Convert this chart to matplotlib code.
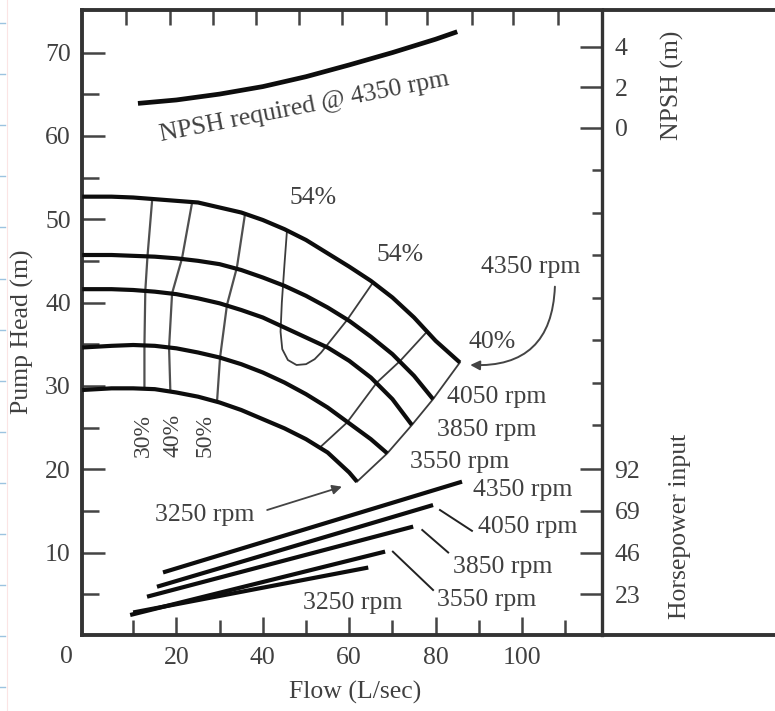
import matplotlib
matplotlib.use("Agg")
import matplotlib.pyplot as plt
from matplotlib.lines import Line2D
import numpy as np

plt.rcParams['font.family'] = ['Liberation Serif', 'DejaVu Serif']

# ---------------- data ----------------
# Head curves (flow L/s, head m)
h4350_q = [-1.8, 5, 10, 15, 20, 25, 30, 35, 40, 45, 50, 55, 60, 65, 70, 75, 80, 85.6]
h4350_h = [52.7, 52.7, 52.6, 52.4, 52.2, 52.0, 51.4, 50.8, 49.9, 48.8, 47.5, 45.9, 44.3, 42.6, 40.6, 38.2, 35.4, 32.8]
h4050_q = [-1.8, 5, 10, 15, 20, 25, 30, 35, 40, 45, 50, 55, 60, 65, 70, 75, 79.4]
h4050_h = [45.7, 45.7, 45.6, 45.5, 45.3, 45.0, 44.6, 43.9, 43.0, 42.0, 40.8, 39.4, 37.8, 35.9, 33.8, 31.2, 28.4]
h3850_q = [-1.8, 5, 10, 15, 20, 25, 30, 35, 40, 45, 50, 55, 60, 65, 70, 74.5]
h3850_h = [41.6, 41.6, 41.5, 41.3, 41.0, 40.5, 39.9, 39.1, 38.2, 37.0, 35.8, 34.6, 33.0, 31.0, 28.4, 25.3]
h3550_q = [-1.8, 5, 10, 15, 20, 25, 30, 35, 40, 45, 50, 55, 60, 65, 68.8]
h3550_h = [34.6, 34.8, 34.9, 34.8, 34.5, 34.0, 33.4, 32.6, 31.6, 30.4, 29.0, 27.4, 25.5, 23.6, 21.9]
h3250_q = [-1.8, 5, 10, 15, 20, 25, 30, 35, 40, 45, 50, 55, 60, 61.8]
h3250_h = [29.5, 29.7, 29.7, 29.6, 29.2, 28.7, 28.0, 27.1, 26.0, 24.9, 23.6, 22.0, 19.6, 18.5]

# Efficiency contours
eff30_q = [14.4, 13.3, 12.8, 12.6, 12.6]
eff30_h = [52.4, 45.5, 41.4, 34.8, 29.7]
eff40_q = [23.6, 21.3, 19.0, 18.3, 18.6]
eff40_h = [51.9, 45.3, 41.1, 34.6, 29.3]
eff50_q = [35.9, 34.0, 31.7, 30.1, 29.4]
eff50_h = [50.7, 44.2, 39.7, 33.4, 28.1]
eff54_q = [45.6, 45.0, 44.4, 44.1, 44.5, 45.8, 47.8, 50.0, 52.0, 53.5, 59.5, 65.5]
eff54_h = [48.7, 44.5, 40.0, 36.5, 34.4, 33.1, 32.5, 32.6, 33.2, 34.0, 37.9, 42.4]
effmid_q = [53.2, 59.5, 66.4, 71.8, 78.0]
effmid_h = [22.6, 25.6, 30.4, 33.0, 36.5]
eff40r_q = [61.8, 68.8, 74.5, 79.4, 85.6]
eff40r_h = [18.5, 21.9, 25.3, 28.4, 32.8]

# NPSH required @ 4350 rpm (flow, NPSH m)
npsh_q = [11.1, 20, 30, 40, 50, 60, 70, 80, 85.0]
npsh_m = [1.19, 1.36, 1.65, 2.02, 2.51, 3.09, 3.70, 4.36, 4.73]

# Horsepower input lines (flow, hp)
hp_speeds = ['4350', '4050', '3850', '3550', '3250']
hp_q = [[16.9, 86.1], [15.5, 79.4], [13.2, 74.8], [9.3, 68.3], [10.0, 64.4]]
hp_v = [[35.0, 85.1], [27.1, 72.2], [21.6, 60.3], [11.5, 46.5], [12.9, 37.7]]

# axes / ticks
x_major = [20, 40, 60, 80, 100]
x_minor = [10, 30, 50, 70, 90, 110]
x_top = [8.3, 18.5, 28.5, 38.4, 48.4, 58.3, 68.5, 78.0, 88.4, 97.9, 108.3]
y_major = [10, 20, 30, 40, 50, 60, 70]
y_minor = [5, 15, 25, 35, 45, 55, 65]
npsh_ticks = [0, 2, 4]
hp_ticks = [23, 46, 69, 92]
right_minor = [25.3, 30.4, 35.5, 40.6, 45.7, 50.8, 55.9]

# scale conversion for the right-hand scales (into head axis units)
NPSH_ZERO = 61.0
NPSH_PER_M = 2.43
HP_PER_UNIT = 4.6

def npsh_to_head(v):
    return NPSH_ZERO + NPSH_PER_M * np.asarray(v, dtype=float)

def hp_to_head(v):
    return np.asarray(v, dtype=float) / HP_PER_UNIT

# ---------------- figure ----------------
W, H = 775, 711
fig = plt.figure(figsize=(W / 100, H / 100), dpi=100)
fig.patch.set_facecolor('white')
ax = fig.add_axes([82 / W, 1 - 635 / H, 520 / W, 625 / H])
ax.set_xlim(-1.85, 118.5)
ax.set_ylim(0.1, 75.1)

SP = '#333333'
TXT = '#404040'
FS = 18.5
for s in ['left', 'top', 'bottom']:
    ax.spines[s].set_linewidth(2.8)
    ax.spines[s].set_color(SP)
ax.spines['right'].set_linewidth(2.4)
ax.spines['right'].set_color(SP)

# extension of top/bottom frame lines to right edge
for yy in [1 - 10 / H, 1 - 635 / H]:
    fig.add_artist(Line2D([602 / W, 1.0], [yy, yy], transform=fig.transFigure,
                          lw=2.8, color=SP, solid_capstyle='butt'))

# page artifacts at left edge
for k in range(14):
    yy = 1 - (23 + 51.1 * k) / H
    fig.add_artist(Line2D([0, 5 / W], [yy, yy], transform=fig.transFigure,
                          lw=1.0, color='#9cc3e0'))
fig.add_artist(Line2D([7 / W, 7 / W], [0, 1], transform=fig.transFigure,
                      lw=0.8, color='#fbe4e4'))

# bottom ticks
ax.set_xticks(x_major)
ax.set_xticklabels([str(v) for v in x_major])
ax.set_xticks(x_minor, minor=True)
ax.tick_params(axis='x', which='major', direction='in', length=13, width=1.8,
               color='#444444', labelsize=FS, labelcolor=TXT, pad=9, top=False)
ax.tick_params(axis='x', which='minor', direction='in', length=11, width=1.8,
               color='#444444', top=False)
# left ticks
ax.set_yticks(y_major)
ax.set_yticklabels([str(v) for v in y_major])
ax.set_yticks(y_minor, minor=True)
ax.tick_params(axis='y', which='major', direction='in', length=16.5, width=1.8,
               color='#444444', labelsize=FS, labelcolor=TXT, pad=8, right=False)
ax.tick_params(axis='y', which='minor', direction='in', length=12, width=1.8,
               color='#444444', right=False)

# top ticks
top = ax.secondary_xaxis('top')
top.set_xticks(x_top)
top.set_xticklabels([])
top.tick_params(direction='in', length=11, width=1.8, color='#444444')
top.spines['top'].set_visible(False)

# right ticks
rt = ax.secondary_yaxis('right')
rt_pos = list(npsh_to_head(npsh_ticks)) + list(hp_to_head(hp_ticks))
rt_lab = [str(v) for v in npsh_ticks] + [str(v) for v in hp_ticks]
rt.set_yticks(rt_pos)
rt.set_yticklabels(rt_lab)
rt.set_yticks(right_minor, minor=True)
rt.tick_params(axis='y', which='major', direction='in', length=16, width=1.8,
               color='#444444', labelsize=FS, labelcolor=TXT, pad=9)
rt.tick_params(axis='y', which='minor', direction='in', length=7, width=1.8,
               color='#444444')
rt.spines['right'].set_visible(False)

# corner zero
fig.text(66 / W, 1 - 657 / H, '0', ha='center', va='center', fontsize=FS, color=TXT)

# axis titles
fig.text(355 / W, 1 - 692 / H, 'Flow (L/sec)', ha='center', va='center',
         fontsize=FS, color=TXT)
fig.text(22 / W, 1 - 332 / H, 'Pump Head (m)', rotation=90, ha='center', va='center',
         fontsize=FS, color=TXT)
fig.text(672 / W, 1 - 85 / H, 'NPSH (m)', rotation=90, ha='center', va='center',
         fontsize=FS, color=TXT)
fig.text(680 / W, 1 - 526 / H, 'Horsepower input', rotation=90, ha='center', va='center',
         fontsize=FS, color=TXT)

# ---------------- curves ----------------
for q, h in [(h4350_q, h4350_h), (h4050_q, h4050_h), (h3850_q, h3850_h),
             (h3550_q, h3550_h), (h3250_q, h3250_h)]:
    ax.plot(q, h, color='#0d0d0d', lw=3.0, solid_capstyle='butt', zorder=4)

for q, h in [(eff30_q, eff30_h), (eff40_q, eff40_h), (eff50_q, eff50_h)]:
    ax.plot(q, h, color='#505050', lw=1.6, zorder=3)
for q, h in [(eff54_q, eff54_h), (effmid_q, effmid_h), (eff40r_q, eff40r_h)]:
    ax.plot(q, h, color='#3c3c3c', lw=1.3, zorder=3)

ax.plot(npsh_q, npsh_to_head(npsh_m), color='#0d0d0d', lw=3.4, solid_capstyle='butt')

for q, v in zip(hp_q, hp_v):
    ax.plot(q, hp_to_head(v), color='#0d0d0d', lw=3.0, solid_capstyle='butt')

# ---------------- annotations ----------------
ax.text(49.6, 63.5, 'NPSH required @ 4350 rpm', rotation=11, ha='center', va='center',
        fontsize=FS, color=TXT, rotation_mode='anchor')
ax.text(51.6, 52.6, '54%', ha='center', va='center', fontsize=FS, color=TXT)
ax.text(71.8, 45.7, '54%', ha='center', va='center', fontsize=FS, color=TXT)
ax.text(93.0, 35.3, '40%', ha='center', va='center', fontsize=FS, color=TXT)
ax.text(102.0, 44.2, '4350 rpm', ha='center', va='center', fontsize=FS, color=TXT)
ax.text(94.2, 28.7, '4050 rpm', ha='center', va='center', fontsize=FS, color=TXT)
ax.text(91.9, 24.7, '3850 rpm', ha='center', va='center', fontsize=FS, color=TXT)
ax.text(85.6, 20.9, '3550 rpm', ha='center', va='center', fontsize=FS, color=TXT)
ax.text(26.6, 14.5, '3250 rpm', ha='center', va='center', fontsize=FS, color=TXT)
for lab, x in [('30%', 12.3), ('40%', 19.2), ('50%', 26.6)]:
    ax.text(x, 24.0, lab, rotation=90, ha='center', va='center', fontsize=FS - 1.5, color=TXT)

# horsepower labels
ax.text(100.2, 17.5, '4350 rpm', ha='center', va='center', fontsize=FS, color=TXT)
ax.text(101.2, 13.1, '4050 rpm', ha='center', va='center', fontsize=FS, color=TXT)
ax.text(95.6, 8.3, '3850 rpm', ha='center', va='center', fontsize=FS, color=TXT)
ax.text(91.9, 4.3, '3550 rpm', ha='center', va='center', fontsize=FS, color=TXT)
ax.text(60.9, 4.0, '3250 rpm', ha='center', va='center', fontsize=FS, color=TXT)

# leaders
for (x0, y0), (x1, y1) in [((81.0, 15.1), (88.4, 12.6)), ((76.9, 12.7), (82.9, 10.0)),
                           ((70.1, 10.1), (79.4, 5.5))]:
    ax.plot([x0, x1], [y0, y1], color='#222222', lw=1.4)

ax.annotate('', xy=(58.3, 17.9), xytext=(41.0, 15.1),
            arrowprops=dict(arrowstyle='-|>', color='#444444', lw=1.3,
                            mutation_scale=14, shrinkA=0, shrinkB=0))
ax.annotate('', xy=(88.0, 32.5), xytext=(107.6, 41.9),
            arrowprops=dict(arrowstyle='-|>', color='#444444', lw=1.4,
                            mutation_scale=14, shrinkA=0, shrinkB=0,
                            connectionstyle='arc3,rad=-0.5'))

fig.savefig('out.png', dpi=100, facecolor='white')
